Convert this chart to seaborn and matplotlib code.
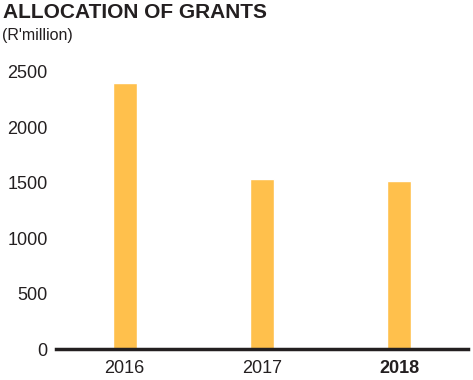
import pandas as pd
import matplotlib
matplotlib.use('Agg')
import matplotlib.pyplot as plt
import seaborn as sns

years = ['2016', '2017', '2018']
grants = [2400, 1535, 1515]

sns.set_style('white')
plt.rcParams['font.family'] = ['Liberation Sans', 'DejaVu Sans']

df = pd.DataFrame({'year': years, 'grants': grants})

fig = plt.figure(figsize=(4.73, 3.80), dpi=100)
ax = fig.add_axes([56 / 473, 1 - 349 / 380, (468 - 56) / 473, (349 - 72) / 380])

sns.barplot(data=df, x='year', y='grants', color='#FFC04C', saturation=1,
            width=0.175, ax=ax)

ax.set_xlim(-0.5, 2.5)
ax.set_ylim(0, 2500)
ax.set_yticks([0, 500, 1000, 1500, 2000, 2500])
ax.set_xlabel('')
ax.set_ylabel('')
for s in ['top', 'right', 'left']:
    ax.spines[s].set_visible(False)
ax.spines['bottom'].set_linewidth(2.5)
ax.spines['bottom'].set_color('#231f20')
ax.tick_params(axis='both', length=0, labelsize=13, colors='#231f20')
ax.tick_params(axis='y', pad=6)
ax.tick_params(axis='x', pad=8)
ax.get_xticklabels()[2].set_fontweight('bold')

# title block
fig.text(3 / 473, 1 - 3 / 380, 'ALLOCATION OF GRANTS', fontsize=15, fontweight='bold',
         va='top', ha='left', color='#231f20')
fig.text(2 / 473, 1 - 28 / 380, "(R'million)", fontsize=11.5, va='top', ha='left',
         color='#231f20')

fig.savefig('out.png', dpi=100)
